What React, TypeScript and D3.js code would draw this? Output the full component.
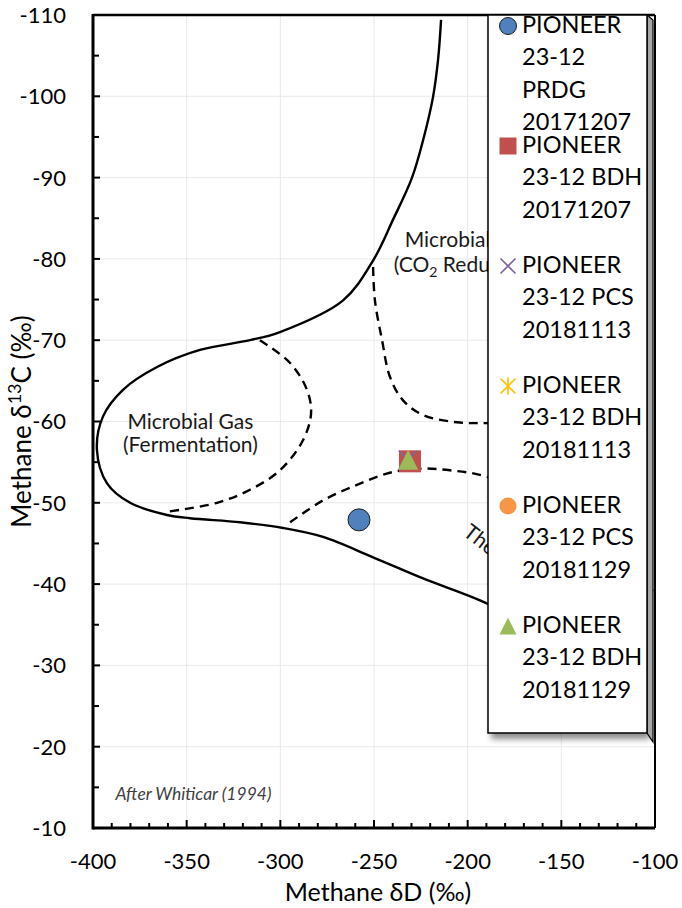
import * as d3 from "d3";

// chart frame (page pixels)
const width = 682;
const height = 908;
const margin = { top: 15, right: 27, bottom: 80, left: 93 };

const xDomain: [number, number] = [-400, -100];
const yDomain: [number, number] = [-110, -10];
const xMajorTicks = [-400, -350, -300, -250, -200, -150, -100];
const yMajorTicks = [-110, -100, -90, -80, -70, -60, -50, -40, -30, -20, -10];

// Whiticar (1994) field boundaries, [deltaD, delta13C]
const outerBoundary: [number, number][] = [
	[-214.2, -109.4],
	[-215.8, -104.5],
	[-218.5, -99.9],
	[-223.8, -94.6],
	[-229.7, -90.0],
	[-239.9, -84.8],
	[-250.5, -79.8],
	[-266.5, -74.9],
	[-300.2, -71.0],
	[-316.2, -70.0],
	[-342.9, -68.8],
	[-365.8, -66.7],
	[-384.0, -63.9],
	[-394.7, -60.6],
	[-397.9, -56.5],
	[-392.5, -52.4],
	[-380.2, -50.0],
	[-360.5, -48.5],
	[-348.2, -48.1],
	[-321.5, -47.6],
	[-298.6, -46.9],
	[-277.2, -45.8],
	[-250.5, -43.3],
	[-223.8, -40.7],
	[-193.4, -38.0],
	[-161.4, -34.4],
	[-129.4, -30.4],
];

const fermentationBoundary: [number, number][] = [
	[-310.9, -70.0],
	[-294.8, -67.2],
	[-285.8, -63.9],
	[-283.6, -61.0],
	[-287.9, -57.7],
	[-300.2, -54.0],
	[-316.2, -51.6],
	[-333.8, -50.0],
	[-360.5, -48.9],
];

const co2ReductionBoundary: [number, number][] = [
	[-250.5, -79.0],
	[-249.5, -74.9],
	[-245.7, -70.0],
	[-241.5, -65.5],
	[-234.5, -62.6],
	[-223.8, -60.8],
	[-205.7, -59.9],
	[-189.7, -59.8],
	[-150.7, -59.8],
];

const thermogenicBoundary: [number, number][] = [
	[-294.8, -47.6],
	[-277.2, -50.3],
	[-259.1, -52.2],
	[-241.5, -53.7],
	[-225.4, -54.2],
	[-209.4, -54.0],
	[-189.7, -53.2],
	[-150.7, -49.1],
	[-100.0, -38.9],
];

// samples, [deltaD, delta13C]
const prdg20171207: [number, number][] = [[-258.0, -47.9]];
const bdh20171207: [number, number][] = [[-230.8, -55.1]];
const pcs20181113: [number, number][] = [[-232.0, -55.3]];
const bdh20181113: [number, number][] = [];
const pcs20181129: [number, number][] = [];
const bdh20181129: [number, number][] = [[-231.8, -55.3]];

type Shape = "circle" | "square" | "x" | "star" | "triangle";

const series = [
	{ lines: ["PIONEER", "23-12", "PRDG", "20171207"], data: prdg20171207, shape: "circle" as Shape, color: "#4f81bd" },
	{ lines: ["PIONEER", "23-12 BDH", "20171207"], data: bdh20171207, shape: "square" as Shape, color: "#c0504d" },
	{ lines: ["PIONEER", "23-12 PCS", "20181113"], data: pcs20181113, shape: "x" as Shape, color: "#8064a2" },
	{ lines: ["PIONEER", "23-12 BDH", "20181113"], data: bdh20181113, shape: "star" as Shape, color: "#ffc000" },
	{ lines: ["PIONEER", "23-12 PCS", "20181129"], data: pcs20181129, shape: "circle" as Shape, color: "#f79646" },
	{ lines: ["PIONEER", "23-12 BDH", "20181129"], data: bdh20181129, shape: "triangle" as Shape, color: "#9bbb59" },
];

const font = "Lato, 'Open Sans', sans-serif";

function Marker({ shape, color, size, x, y, outline }: { shape: Shape; color: string; size: number; x: number; y: number; outline?: boolean }) {
	const h = size / 2;
	if (shape === "circle") {
		return <circle cx={x} cy={y} r={h} fill={color} stroke={outline ? "#1f1f1f" : "none"} strokeWidth={1} />;
	}
	if (shape === "square") {
		return <rect x={x - h} y={y - h} width={size} height={size} fill={color} />;
	}
	if (shape === "triangle") {
		return <path d={`M${x},${y - h}L${x + h},${y + h}L${x - h},${y + h}Z`} fill={color} />;
	}
	const xPath = `M${x - h + 1},${y - h + 1}L${x + h - 1},${y + h - 1}M${x - h + 1},${y + h - 1}L${x + h - 1},${y - h + 1}`;
	if (shape === "x") {
		return <path d={xPath} stroke={color} strokeWidth={1.6} fill="none" />;
	}
	return <path d={`${xPath}M${x},${y - h}L${x},${y + h}`} stroke={color} strokeWidth={1.6} fill="none" />;
}

export default function App() {
	const x = d3.scaleLinear().domain(xDomain).range([margin.left, width - margin.right]);
	const y = d3.scaleLinear().domain(yDomain).range([margin.top, height - margin.bottom]);
	const [x0, x1] = x.range();
	const [y0, y1] = y.range();

	const line = d3
		.line<[number, number]>()
		.x((d) => x(d[0]))
		.y((d) => y(d[1]))
		.curve(d3.curveCatmullRom.alpha(0.5));

	const xMinor = d3.range(xDomain[0], xDomain[1] + 1, 10);
	const yMinor = d3.range(yDomain[0], yDomain[1] + 1, 5);

	// legend box
	const lg = { x: 488, y: y0, w: 159, h: 718 };
	const lgText = 522;
	const lgFirst = 33;
	const lgStep = 120;
	const lgLine = 32.3;

	return (
		<svg width={width} height={height} style={{ position: "absolute", left: 0, top: 0, background: "#fff" }} fontFamily={font}>
			<defs>
				<clipPath id="plot">
					<rect x={x0} y={y0} width={x1 - x0} height={y1 - y0} />
				</clipPath>
				<clipPath id="beside-legend">
					<rect x={x0} y={y0} width={lg.x - x0} height={y1 - y0} />
				</clipPath>
				<filter id="shadow" x="-10%" y="-10%" width="130%" height="130%">
					<feGaussianBlur stdDeviation="3" />
				</filter>
			</defs>

			{/* grid */}
			{xMajorTicks.slice(1, -1).map((t) => (
				<line key={`gx${t}`} x1={x(t)} x2={x(t)} y1={y0} y2={y1} stroke="#e9e9e9" strokeWidth={1} />
			))}
			{yMajorTicks.slice(1, -1).map((t) => (
				<line key={`gy${t}`} x1={x0} x2={x1} y1={y(t)} y2={y(t)} stroke="#e9e9e9" strokeWidth={1} />
			))}

			{/* field boundaries */}
			<g clipPath="url(#plot)" fill="none" stroke="#000" strokeWidth={2.4}>
				<path d={line(outerBoundary) ?? ""} />
				<path d={line(fermentationBoundary) ?? ""} strokeDasharray="9,6" />
				<path d={line(co2ReductionBoundary) ?? ""} strokeDasharray="9,6" />
				<path d={line(thermogenicBoundary) ?? ""} strokeDasharray="9,6" />
			</g>

			{/* field labels (the legend hides their right part) */}
			<g fontSize={21} fill="#1a1a1a" textAnchor="middle">
				<text x={x(-348)} y={y(-59.1)}>Microbial Gas</text>
				<text x={x(-348)} y={y(-56.2)}>(Fermentation)</text>
			</g>
			<g clipPath="url(#beside-legend)" fontSize={21} fill="#1a1a1a">
				<text x={x(-200)} y={y(-81.5)} textAnchor="middle">Microbial Gas</text>
				<text x={x(-200)} y={y(-78.4)} textAnchor="middle">
					(CO<tspan fontSize={14} dy={5}>2</tspan>
					<tspan dy={-5}> Reduction)</tspan>
				</text>
				<text transform={`translate(${x(-203)},${y(-46.1)}) rotate(38)`}>Thermogenic</text>
			</g>
			<text x={x(-388)} y={y(-13.4)} fontSize={17.5} fontStyle="italic" fill="#404040">
				After Whiticar (1994)
			</text>

			{/* samples */}
			{series.map((s, i) =>
				s.data.map((d, j) => (
					<Marker
						key={`m${i}-${j}`}
						shape={s.shape}
						color={s.color}
						size={s.shape === "circle" || s.shape === "square" ? 22 : 20}
						x={x(d[0])}
						y={y(d[1])}
						outline={s.shape === "circle"}
					/>
				)),
			)}

			{/* frame */}
			<line x1={x0} x2={x1} y1={y0} y2={y0} stroke="#000" strokeWidth={2.5} />
			<line x1={x1} x2={x1} y1={y0} y2={y1} stroke="#000" strokeWidth={2} />
			<line x1={x0} x2={x1} y1={y1} y2={y1} stroke="#000" strokeWidth={3} />
			<line x1={x0} x2={x0} y1={y0 - 1} y2={y1 + 1.5} stroke="#000" strokeWidth={3} />

			{/* ticks */}
			{xMinor.map((t) => (
				<line key={`tx${t}`} x1={x(t)} x2={x(t)} y1={y1} y2={y1 - (t % 50 === 0 ? 8 : 5)} stroke="#000" strokeWidth={2} />
			))}
			{yMinor.map((t) => (
				<line key={`ty${t}`} x1={x0} x2={x0 + (t % 10 === 0 ? 7 : 6)} y1={y(t)} y2={y(t)} stroke="#000" strokeWidth={2} />
			))}

			{/* tick labels */}
			<g fontSize={22} fill="#000">
				{xMajorTicks.map((t) => (
					<text key={`lx${t}`} x={x(t)} y={y1 + 41} textAnchor="middle">
						{t}
					</text>
				))}
				{yMajorTicks.map((t) => (
					<text key={`ly${t}`} x={x0 - 27} y={y(t)} dy="0.36em" textAnchor="end">
						{t}
					</text>
				))}
			</g>

			{/* axis titles */}
			<text x={(x0 + x1) / 2 + 4} y={901} fontSize={25} textAnchor="middle" fill="#000">
				Methane δD (‰)
			</text>
			<text transform={`translate(31,${(y0 + y1) / 2}) rotate(-90)`} fontSize={26} textAnchor="middle" fill="#000">
				Methane δ<tspan fontSize={18} dy={-10}>13</tspan>
				<tspan dy={10}>C (‰)</tspan>
			</text>

			{/* legend */}
			<rect x={lg.x + 3} y={lg.y + 6} width={lg.w} height={lg.h} fill="#000" opacity={0.45} filter="url(#shadow)" />
			<path
				d={`M${lg.x + lg.w},${lg.y}L${lg.x + lg.w + 6},${lg.y + 5}L${lg.x + lg.w + 6},${lg.y + lg.h + 9}L${lg.x + lg.w},${lg.y + lg.h}Z`}
				fill="#a6a6a6"
				stroke="#000"
				strokeWidth={1.2}
			/>
			<rect x={lg.x} y={lg.y} width={lg.w} height={lg.h} fill="#fff" stroke="#000" strokeWidth={1.5} />
			{series.map((s, i) => {
				const base = lgFirst + i * lgStep;
				return (
					<g key={`lg${i}`}>
						<Marker shape={s.shape} color={s.color} size={17} x={508} y={base - 7} outline={i === 0} />
						{s.lines.map((t, k) => (
							<text key={k} x={lgText} y={base + k * lgLine} fontSize={23.5} fill="#000">
								{t}
							</text>
						))}
					</g>
				);
			})}
		</svg>
	);
}
